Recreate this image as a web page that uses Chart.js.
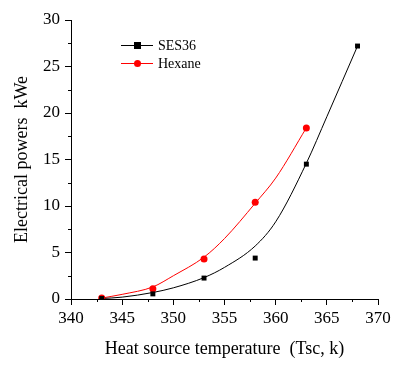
<!DOCTYPE html>
<html>
<head>
<meta charset="utf-8">
<script src="https://cdn.jsdelivr.net/npm/chart.js@4"></script>
<style>
  html, body { margin: 0; padding: 0; background: #fff; }
  #wrap { width: 403px; height: 370px; }
</style>
</head>
<body>
<div id="wrap"><canvas id="powerChart"></canvas></div>
<script>
// measured points
const tempSES = [343, 348, 353, 358, 363, 368];
const powerSES = [0.05, 0.55, 2.25, 4.4, 14.5, 27.2];
const tempHex = [343, 348, 353, 358, 363];
const powerHex = [0.1, 1.1, 4.3, 10.4, 18.4];

// fitted curves
const fitTempSES = [343, 345, 348, 350, 353, 355, 358, 360, 363, 365, 368];
const fitPowerSES = [0.05, 0.2, 0.7, 1.2, 2.3, 3.4, 5.7, 8.3, 14.6, 19.6, 27.2];
const fitTempHex = [343, 345, 348, 350, 353, 355, 358, 360, 363];
const fitPowerHex = [0.1, 0.5, 1.3, 2.5, 4.5, 6.5, 10.3, 13.0, 18.4];

const serif = "'Liberation Serif', 'Times New Roman', serif";

const toXY = (xs, ys) => xs.map((x, i) => ({ x: x, y: ys[i] }));

// short minor ticks on both axes
const minorTicks = {
  id: 'minorTicks',
  afterDraw(chart) {
    const ctx = chart.ctx;
    const xs = chart.scales.x, ys = chart.scales.y;
    ctx.save();
    ctx.strokeStyle = '#000';
    ctx.lineWidth = 1;
    for (let v = 342.5; v < 370; v += 5) {
      const px = Math.round(xs.getPixelForValue(v)) + 0.5;
      ctx.beginPath(); ctx.moveTo(px, xs.top); ctx.lineTo(px, xs.top + 3); ctx.stroke();
    }
    for (let v = 2.5; v < 30; v += 5) {
      const py = Math.round(ys.getPixelForValue(v)) + 0.5;
      ctx.beginPath(); ctx.moveTo(ys.right, py); ctx.lineTo(ys.right - 3, py); ctx.stroke();
    }
    ctx.restore();
  }
};

// legend: line segment + marker + label
const lineLegend = {
  id: 'lineLegend',
  afterDraw(chart) {
    const ctx = chart.ctx;
    const items = chart.data.datasets.filter(d => d.legend);
    ctx.save();
    ctx.font = '14px ' + serif;
    ctx.textBaseline = 'middle';
    items.forEach((d, i) => {
      const y = 45 + i * 18;
      ctx.strokeStyle = d.borderColor;
      ctx.lineWidth = 1;
      ctx.beginPath(); ctx.moveTo(121, y + 0.5); ctx.lineTo(153, y + 0.5); ctx.stroke();
      ctx.fillStyle = d.backgroundColor;
      if (d.pointStyle === 'rect') {
        ctx.fillRect(134, y - 3, 7, 7);
      } else {
        ctx.beginPath(); ctx.arc(137.5, y + 0.5, 3.5, 0, Math.PI * 2); ctx.fill();
      }
      ctx.fillStyle = '#000';
      ctx.fillText(d.label, 158, y + 1);
    });
    ctx.restore();
  }
};

new Chart(document.getElementById('powerChart'), {
  type: 'scatter',
  data: {
    datasets: [
      {
        label: 'SES36', legend: true,
        data: toXY(tempSES, powerSES),
        pointStyle: 'rect', pointRadius: 3.5,
        backgroundColor: '#000', borderColor: '#000', borderWidth: 0,
        showLine: false
      },
      {
        label: 'Hexane', legend: true,
        data: toXY(tempHex, powerHex),
        pointStyle: 'circle', pointRadius: 3.5,
        backgroundColor: '#ff0000', borderColor: '#ff0000', borderWidth: 0,
        showLine: false
      },
      {
        label: 'SES36 fit',
        data: toXY(fitTempSES, fitPowerSES),
        showLine: true, pointRadius: 0, borderColor: '#000', borderWidth: 1,
        cubicInterpolationMode: 'monotone'
      },
      {
        label: 'Hexane fit',
        data: toXY(fitTempHex, fitPowerHex),
        showLine: true, pointRadius: 0, borderColor: '#ff0000', borderWidth: 1,
        cubicInterpolationMode: 'monotone'
      }
    ]
  },
  options: {
    responsive: true,
    maintainAspectRatio: false,
    animation: false,
    layout: { padding: { top: 20, right: 25, left: 0, bottom: 0 } },
    plugins: { legend: { display: false }, tooltip: { enabled: false } },
    scales: {
      x: {
        type: 'linear', min: 340, max: 370,
        afterFit: s => { s.height = 71; },
        border: { display: true, color: '#000', width: 1 },
        grid: { drawOnChartArea: false, tickLength: 6, color: '#000' },
        ticks: { stepSize: 5, color: '#000', padding: 3, font: { family: serif, size: 17 } },
        title: { display: true, text: 'Heat source temperature  (Tsc, k)', color: '#000',
                 font: { family: serif, size: 18 }, padding: { top: 4, bottom: 10 } }
      },
      y: {
        min: 0, max: 30,
        afterFit: s => { s.width = 71; },
        border: { display: true, color: '#000', width: 1 },
        grid: { drawOnChartArea: false, tickLength: 6, color: '#000' },
        ticks: { stepSize: 5, color: '#000', padding: 5, font: { family: serif, size: 17 } },
        title: { display: true, text: 'Electrical powers  kWe', color: '#000',
                 font: { family: serif, size: 18 }, padding: { top: 11, bottom: 4 } }
      }
    }
  },
  plugins: [minorTicks, lineLegend]
});
</script>
</body>
</html>
